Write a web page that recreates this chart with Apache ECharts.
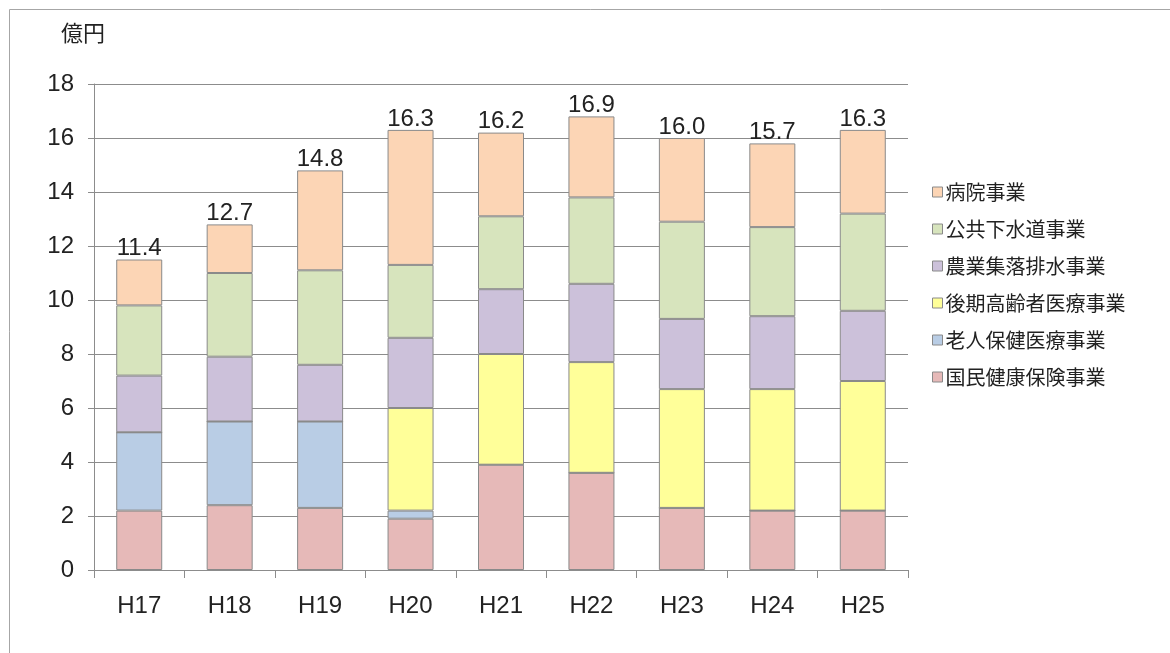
<!DOCTYPE html>
<html><head><meta charset="utf-8">
<script src="https://cdn.jsdelivr.net/npm/echarts@6/dist/echarts.min.js"></script>
<style>html,body{margin:0;padding:0;background:#fff;}#c{width:1170px;height:653px;}</style>
</head><body><div id="c"></div>
<script>
const categories = ['H17','H18','H19','H20','H21','H22','H23','H24','H25'];
const kokuho   = [2.2, 2.4, 2.3, 1.9, 3.9, 3.6, 2.3, 2.2, 2.2];
const rojin    = [2.9, 3.1, 3.2, 0.3, 0, 0, 0, 0, 0];
const koki     = [0, 0, 0, 3.8, 4.1, 4.1, 4.4, 4.5, 4.8];
const nogyo    = [2.1, 2.4, 2.1, 2.6, 2.4, 2.9, 2.6, 2.7, 2.6];
const gesui    = [2.6, 3.1, 3.5, 2.7, 2.7, 3.2, 3.6, 3.3, 3.6];
const byoin    = [1.7, 1.8, 3.7, 5.0, 3.1, 3.0, 3.1, 3.1, 3.1];
const totals   = ['11.4','12.7','14.8','16.3','16.2','16.9','16.0','15.7','16.3'];
const yTicks   = [0,2,4,6,8,10,12,14,16,18];

const cjk = '"Noto Sans CJK JP", "Noto Sans", sans-serif';
const num = '"Liberation Sans", Arial, sans-serif';
const seriesDefs = [
  {name:'国民健康保険事業', data:kokuho, color:'#E6B9B8'},
  {name:'老人保健医療事業', data:rojin, color:'#B9CDE5'},
  {name:'後期高齢者医療事業', data:koki, color:'#FFFF99'},
  {name:'農業集落排水事業', data:nogyo, color:'#CCC1DA'},
  {name:'公共下水道事業', data:gesui, color:'#D7E4BD'},
  {name:'病院事業', data:byoin, color:'#FCD5B5'}
];
const series = seriesDefs.map((s, i) => {
  const o = {
    name: s.name, type: 'bar', stack: 'total', barWidth: 46,
    data: s.data,
    itemStyle: {color: s.color, borderColor: '#8a8a8a', borderWidth: 1},
    emphasis: {disabled: true}
  };
  if (i === seriesDefs.length - 1) {
    o.label = {show: true, position: 'top', distance: -1,
      formatter: p => totals[p.dataIndex],
      color: '#222', fontSize: 24, fontFamily: num};
  }
  return o;
});
const chart = echarts.init(document.getElementById('c'));
chart.setOption({
  animation: false,
  backgroundColor: '#fff',
  graphic: [{type:'rect', shape:{x:9.5, y:9.5, width:1180, height:700},
    style:{fill:'none', stroke:'#a6a6a6', lineWidth:1}, silent:true},
    {type:'text', left: 61, top: 22, style:{text:'億円', fontSize:22, fill:'#222', fontFamily:cjk}}],
  grid: {left: 94, right: 262, top: 84, bottom: 83, containLabel: false},
  legend: {
    orient: 'vertical', left: 927, top: 176, itemGap: 15,
    itemWidth: 10, itemHeight: 10, icon: 'rect',
    data: seriesDefs.map(s => s.name).reverse(),
    itemStyle: {borderColor: '#8a8a8a', borderWidth: 1},
    textStyle: {fontSize: 20, lineHeight: 22, color: '#222', fontFamily: cjk, padding: [0,0,0,-2]},
    selectedMode: false
  },
  xAxis: {
    type: 'category', data: categories,
    axisLine: {lineStyle: {color: '#8c8c8c'}},
    axisTick: {show: true, length: 8, lineStyle: {color: '#8c8c8c'}},
    axisLabel: {color: '#222', fontSize: 24, margin: 24, fontFamily: num}
  },
  yAxis: {
    type: 'value', min: 0, max: 18, interval: 2,
    axisLine: {show: true, lineStyle: {color: '#8c8c8c'}},
    axisTick: {show: true, length: 6, lineStyle: {color: '#8c8c8c'}},
    axisLabel: {color: '#222', fontSize: 24, margin: 20, fontFamily: num,
      formatter: v => yTicks.includes(v) ? String(v) : ''},
    splitLine: {lineStyle: {color: '#8c8c8c'}}
  },
  series: series
});
</script></body></html>
